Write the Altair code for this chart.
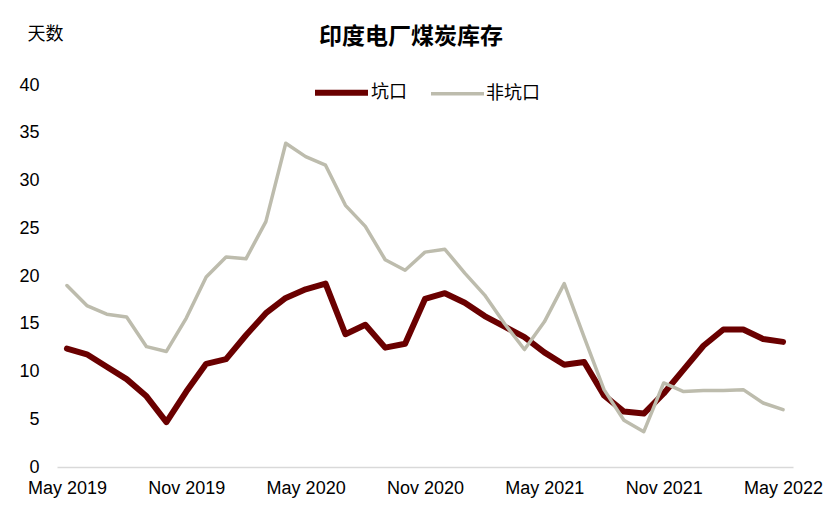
import altair as alt
import pandas as pd

months = ["May 2019", "Jun 2019", "Jul 2019", "Aug 2019", "Sep 2019", "Oct 2019",
          "Nov 2019", "Dec 2019", "Jan 2020", "Feb 2020", "Mar 2020", "Apr 2020",
          "May 2020", "Jun 2020", "Jul 2020", "Aug 2020", "Sep 2020", "Oct 2020",
          "Nov 2020", "Dec 2020", "Jan 2021", "Feb 2021", "Mar 2021", "Apr 2021",
          "May 2021", "Jun 2021", "Jul 2021", "Aug 2021", "Sep 2021", "Oct 2021",
          "Nov 2021", "Dec 2021", "Jan 2022", "Feb 2022", "Mar 2022", "Apr 2022",
          "May 2022"]

pithead = [12.4, 11.8, 10.5, 9.2, 7.4, 4.7, 7.9, 10.8, 11.3, 13.8, 16.1, 17.7,
           18.6, 19.2, 13.9, 14.9, 12.5, 12.9, 17.6, 18.2, 17.2, 15.8, 14.7, 13.6,
           12.0, 10.7, 11.0, 7.5, 5.8, 5.6, 7.7, 10.2, 12.7, 14.4, 14.4, 13.4, 13.1]

non_pithead = [19.0, 16.9, 16.0, 15.7, 12.6, 12.1, 15.6, 19.9, 22.0, 21.8, 25.7, 33.9,
               32.5, 31.6, 27.4, 25.2, 21.7, 20.6, 22.5, 22.8, 20.3, 18.0, 15.0, 12.3,
               15.2, 19.2, 13.6, 8.1, 4.9, 3.7, 8.8, 7.9, 8.0, 8.0, 8.1, 6.7, 6.0]

series_names = ["坑口", "非坑口"]
series_colors = ["#6a0000", "#bdbcad"]
series_widths = [6, 3.5]
tick_months = ["May 2019", "Nov 2019", "May 2020", "Nov 2020", "May 2021", "Nov 2021", "May 2022"]

rows = []
for m, v in zip(months, pithead):
    rows.append({"month": m, "series": series_names[0], "value": v})
for m, v in zip(months, non_pithead):
    rows.append({"month": m, "series": series_names[1], "value": v})
df = pd.DataFrame(rows)

LATIN = "Liberation Sans"
CJK = "Noto Sans CJK SC"

legend = alt.Legend(
    title=None, orient="none", legendX=255, legendY=-22, direction="horizontal",
    symbolType="stroke", symbolSize=2809, labelFont=CJK, labelFontSize=18,
    labelColor="#000000", columnPadding=17, labelOffset=0,
)

chart = alt.Chart(df).mark_line(strokeJoin="round", strokeCap="round").encode(
    x=alt.X("month:O", sort=months,
            scale=alt.Scale(type="point", padding=0.5),
            axis=alt.Axis(values=tick_months, labelAngle=0, title=None, ticks=False,
                          domainColor="#d9d9d9", domainWidth=1.5, labelFont=LATIN,
                          labelFontSize=18, labelColor="#000000", labelPadding=12,
                          labelBound=False)),
    y=alt.Y("value:Q", scale=alt.Scale(domain=[0, 40], nice=False),
            axis=alt.Axis(values=[0, 5, 10, 15, 20, 25, 30, 35, 40], grid=False,
                          domain=False, ticks=False, labelFont=LATIN, labelFontSize=18,
                          labelColor="#000000", labelPadding=18,
                          title="天数", titleAngle=0, titleFont=CJK, titleFontSize=18,
                          titleFontWeight="normal", titleColor="#000000",
                          titleAlign="left", titleBaseline="middle",
                          titleX=-30, titleY=-51)),
    color=alt.Color("series:N", sort=series_names,
                    scale=alt.Scale(domain=series_names, range=series_colors),
                    legend=legend),
    strokeWidth=alt.StrokeWidth("series:N", sort=series_names,
                                scale=alt.Scale(domain=series_names, range=series_widths),
                                legend=legend),
).properties(
    width=736,
    height=382,
    padding={"left": 49, "top": 77, "right": 30, "bottom": 40},
    autosize=alt.AutoSizeParams(type="none"),
    title=alt.TitleParams("印度电厂煤炭库存", font=CJK, fontSize=23, fontWeight="bold",
                          color="#000000", anchor="middle", dx=-14, offset=0, dy=35,
                          baseline="middle"),
).configure_view(stroke=None)

chart.save("out.html", embed_options={"renderer": "svg", "actions": False})
